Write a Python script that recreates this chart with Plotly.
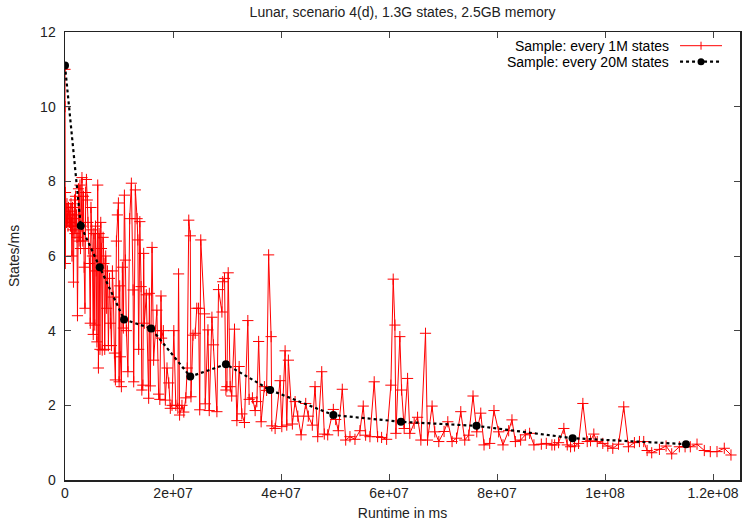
import plotly.graph_objects as go

# ---- data (x in millions of ms) ----
red_x_mms = [0.00, 0.02, 0.06, 0.09, 0.18, 0.28, 0.37, 0.46, 0.55, 0.65, 0.74, 0.83, 0.92, 1.02, 1.11, 1.20,
             1.29, 1.39, 1.48, 1.57, 1.66, 1.76, 1.85, 1.94, 2.03, 2.13, 2.22, 2.31, 2.50, 2.62, 2.77, 2.87,
             2.99, 3.14, 3.29, 3.42, 3.55, 3.70, 3.83, 3.97, 4.12, 4.25, 4.40, 4.53, 4.68, 4.81, 4.95, 5.08,
             5.23, 5.36, 5.51, 5.64, 5.79, 5.91, 6.06, 6.19, 6.32, 6.47, 6.62, 6.75, 6.89, 7.06, 7.21, 7.36,
             7.54, 7.71, 7.86, 8.04, 8.23, 8.41, 8.60, 8.78, 8.96, 9.15, 9.33, 9.52, 9.70, 9.89, 10.02, 10.13,
             10.26, 10.44, 10.63, 10.81, 11.00, 11.18, 11.37, 11.65, 11.98, 12.29, 12.61, 12.72, 13.03, 13.35,
             13.49, 13.64, 13.86, 14.09, 14.23, 14.42, 14.57, 14.69, 15.06, 15.49, 15.62, 15.80, 16.12, 16.41,
             16.73, 17.01, 17.34, 17.56, 17.78, 17.89, 18.21, 18.58, 18.89, 19.22, 19.50, 19.82, 20.15, 20.52,
             20.89, 21.03, 21.22, 21.66, 22.00, 22.37, 22.64, 22.92, 23.20, 23.33, 23.70, 24.12, 24.40, 24.73,
             24.95, 25.14, 25.84, 25.97, 26.47, 26.71, 27.21, 27.50, 28.13, 28.43, 29.06, 29.20, 29.54, 29.80,
             29.98, 30.22, 30.59, 30.87, 31.39, 31.83, 32.25, 32.75, 33.23, 33.86, 34.10, 34.71, 35.21, 35.53,
             35.86, 36.32, 36.93, 37.34, 37.71, 38.17, 38.30, 38.91, 39.83, 40.15, 40.76, 41.07, 41.37, 42.11,
             42.61, 43.11, 43.72, 44.58, 45.06, 45.80, 46.30, 46.80, 47.54, 48.02, 48.65, 49.69, 50.13, 50.61,
             51.35, 51.98, 52.77, 53.70, 54.62, 55.23, 55.67, 56.47, 57.26, 57.89, 58.63, 59.56, 60.35, 60.78,
             61.09, 61.28, 62.01, 62.33, 62.81, 63.44, 63.86, 64.66, 65.29, 65.90, 66.76, 67.13, 67.98, 68.48,
             69.22, 70.20, 70.89, 71.68, 72.50, 73.29, 74.03, 74.77, 75.56, 76.25, 76.99, 77.60, 78.65, 79.44,
             80.31, 81.11, 82.16, 82.77, 83.40, 84.38, 85.25, 86.04, 86.84, 88.21, 89.13, 90.17, 90.67, 91.40,
             92.38, 93.01, 93.62, 94.36, 95.10, 95.90, 96.71, 97.32, 97.93, 98.56, 99.59, 100.52, 101.44,
             102.50, 103.47, 104.34, 105.45, 106.38, 107.17, 107.80, 108.65, 110.08, 111.31, 112.35, 113.77,
             114.83, 115.80, 117.04, 118.39, 119.50, 120.74, 122.09, 123.33, 124.86]
red_y = [11.0, 10.0, 5.8, 7.7, 7.2, 6.9, 7.4, 7.0, 6.8, 7.3, 7.1, 6.9, 7.2, 6.8, 7.4, 6.9,
         6.0, 7.3, 6.7, 5.3, 7.0, 7.5, 6.6, 7.6, 6.8, 7.1, 6.5, 4.4, 7.8, 6.4, 7.9, 6.2,
         6.8, 8.1, 6.4, 7.6, 5.7, 4.6, 7.7, 8.05, 7.5, 6.9, 6.2, 5.8, 4.2, 7.3, 6.7, 6.0,
         3.9, 6.6, 4.15, 6.8, 5.6, 3.7, 7.9, 3.0, 6.6, 3.5, 6.9, 6.2, 3.48, 6.5, 5.8, 3.5,
         6.0, 4.6, 5.6, 3.6, 5.4, 4.2, 3.6, 5.6, 4.9, 3.4, 2.68, 6.4, 7.1, 7.42, 2.63, 5.2,
         3.3, 2.5, 5.7, 4.07, 7.63, 5.89, 4.0, 2.9, 7.0, 7.95, 5.09, 2.63, 7.77, 7.0,
         6.43, 3.5, 6.92, 5.18, 2.41, 2.54, 6.07, 4.2, 4.96, 2.19, 5.0, 2.52, 6.23, 3.21,
         4.0, 4.55, 2.3, 2.16, 4.93, 3.8, 4.0, 2.14, 3.0, 2.6, 1.92, 2.0, 4.0, 2.0,
         1.92, 5.52, 1.74, 2.0, 1.82, 2.2, 3.0, 6.96, 6.54, 2.23, 3.88, 3.93, 4.60, 4.6,
         1.88, 6.43, 4.45, 2.04, 4.02, 1.86, 4.36, 3.62, 1.83, 5.10, 4.5, 5.31, 5.40, 2.41,
         2.5, 5.55, 2.5, 2.25, 4.04, 1.59, 3.04, 1.77, 1.54, 4.27, 2.16, 2.2, 1.86, 2.1,
         3.71, 1.56, 2.5, 2.4, 6.03, 3.84, 1.45, 1.38, 2.66, 1.43, 3.46, 1.47, 3.21, 1.5,
         2.10, 1.71, 1.21, 2.05, 1.71, 1.47, 2.50, 1.16, 2.90, 1.23, 1.21, 1.89, 1.62, 1.32,
         2.43, 1.07, 1.16, 1.09, 1.32, 1.98, 1.2, 1.16, 2.63, 1.16, 1.14, 1.09, 2.54, 5.38,
         4.15, 1.25, 3.84, 2.41, 1.38, 2.72, 1.25, 1.52, 1.68, 1.07, 3.93, 1.07, 1.98, 1.29,
         1.03, 1.3, 1.56, 1.03, 1.12, 1.83, 1.07, 1.2, 2.25, 1.29, 1.79, 0.94, 0.98, 1.86,
         1.29, 0.94, 1.32, 1.61, 1.03, 1.07, 1.21, 1.25, 0.94, 0.96, 0.98, 0.94, 0.94, 1.0,
         1.38, 0.94, 0.89, 0.91, 0.98, 2.05, 1.03, 1.05, 1.23, 1.03, 0.98, 0.91, 0.85,
         0.96, 1.96, 0.89, 1.0, 1.03, 1.03, 0.79, 0.73, 0.82, 0.91, 0.70, 0.89,
         0.89, 0.89, 0.96, 0.79, 0.76, 0.76, 0.85, 0.67]

black_x_mms = [0.0, 2.92, 6.43, 10.94, 15.94, 23.2, 29.8, 38.0, 49.7, 62.2, 76.2, 94.0, 115.0]
black_y = [11.1, 6.81, 5.70, 4.30, 4.06, 2.77, 3.10, 2.41, 1.74, 1.56, 1.45, 1.12, 0.96]

x_tickvals = [0, 2e7, 4e7, 6e7, 8e7, 1e8, 1.2e8]
x_ticktext = ["0", "2e+07", "4e+07", "6e+07", "8e+07", "1e+08", "1.2e+08"]
y_tickvals = [0, 2, 4, 6, 8, 10, 12]

series_names = ["Sample: every 1M states", "Sample: every 20M states"]

red_x = [v * 1e6 for v in red_x_mms]
black_x = [v * 1e6 for v in black_x_mms]

FONT = "Liberation Sans, Arial, Helvetica, sans-serif"

fig = go.Figure()
fig.add_trace(go.Scatter(
    x=red_x, y=red_y, mode="lines+markers", name=series_names[0],
    line=dict(color="#ff0000", width=1),
    marker=dict(symbol="cross-thin", size=8, color="#ff0000", line=dict(color="#ff0000", width=1)),
    showlegend=False, hoverinfo="skip",
))
fig.add_trace(go.Scatter(
    x=black_x, y=black_y, mode="lines+markers", name=series_names[1],
    line=dict(color="#000000", width=2.2, dash="dot"),
    marker=dict(symbol="circle", size=8, color="#000000"),
    showlegend=False, hoverinfo="skip",
))

# custom gnuplot-like legend (text left, sample right)
L = 64.5; W = 675.5; B = 480; H = 448
def px(xp): return (xp - L) / W
def py(yp): return (B - yp) / H

annotations = []
shapes = []
rows = [45.7, 61.7]
for i, yy in enumerate(rows):
    annotations.append(dict(xref="paper", yref="paper", x=px(671), y=py(yy), text=series_names[i],
                            showarrow=False, xanchor="right", yanchor="middle",
                            font=dict(family=FONT, size=14, color="#000")))
# red sample
shapes.append(dict(type="line", xref="paper", yref="paper", x0=px(680), x1=px(722), y0=py(45.7), y1=py(45.7),
                   line=dict(color="#ff0000", width=1)))
shapes.append(dict(type="line", xref="paper", yref="paper", x0=px(701), x1=px(701), y0=py(41.7), y1=py(49.7),
                   line=dict(color="#ff0000", width=1)))
# black sample
shapes.append(dict(type="line", xref="paper", yref="paper", x0=px(680), x1=px(722), y0=py(61.7), y1=py(61.7),
                   line=dict(color="#000000", width=2.2, dash="dot")))
shapes.append(dict(type="circle", xref="paper", yref="paper", x0=px(697.5), x1=px(704.5), y0=py(65.2), y1=py(58.2),
                   fillcolor="#000000", line=dict(color="#000000", width=0)))

axis_common = dict(
    showgrid=False, zeroline=False, showline=True, linecolor="#222", linewidth=1.5,
    mirror="ticks", ticks="inside", ticklen=6, tickcolor="#444", tickwidth=1,
    tickfont=dict(family=FONT, size=14, color="#222"), automargin=False,
)

fig.update_layout(
    width=743, height=530,
    margin=dict(l=65, r=3, t=32, b=50, autoexpand=False),
    paper_bgcolor="white", plot_bgcolor="white",
    title=dict(text="Lunar, scenario 4(d), 1.3G states, 2.5GB memory",
               x=0.5, xref="paper", y=1 - 12 / 530, yref="container", yanchor="middle", xanchor="center",
               font=dict(family=FONT, size=14, color="#222"), automargin=False),
    xaxis=dict(range=[0, 1.25e8], tickvals=x_tickvals, ticktext=x_ticktext,
               title=dict(text="Runtime in ms", font=dict(family=FONT, size=14, color="#222"), standoff=8),
               **axis_common),
    yaxis=dict(range=[0, 12], tickvals=y_tickvals, ticklabelstandoff=5,
               title=dict(text="States/ms", font=dict(family=FONT, size=14, color="#222"), standoff=17),
               **axis_common),
    annotations=annotations, shapes=shapes,
    showlegend=False, hovermode=False,
)

fig.write_html("out.html", config={"displayModeBar": False, "staticPlot": True},
               post_script="document.body.style.margin='0';document.body.style.padding='0';")
